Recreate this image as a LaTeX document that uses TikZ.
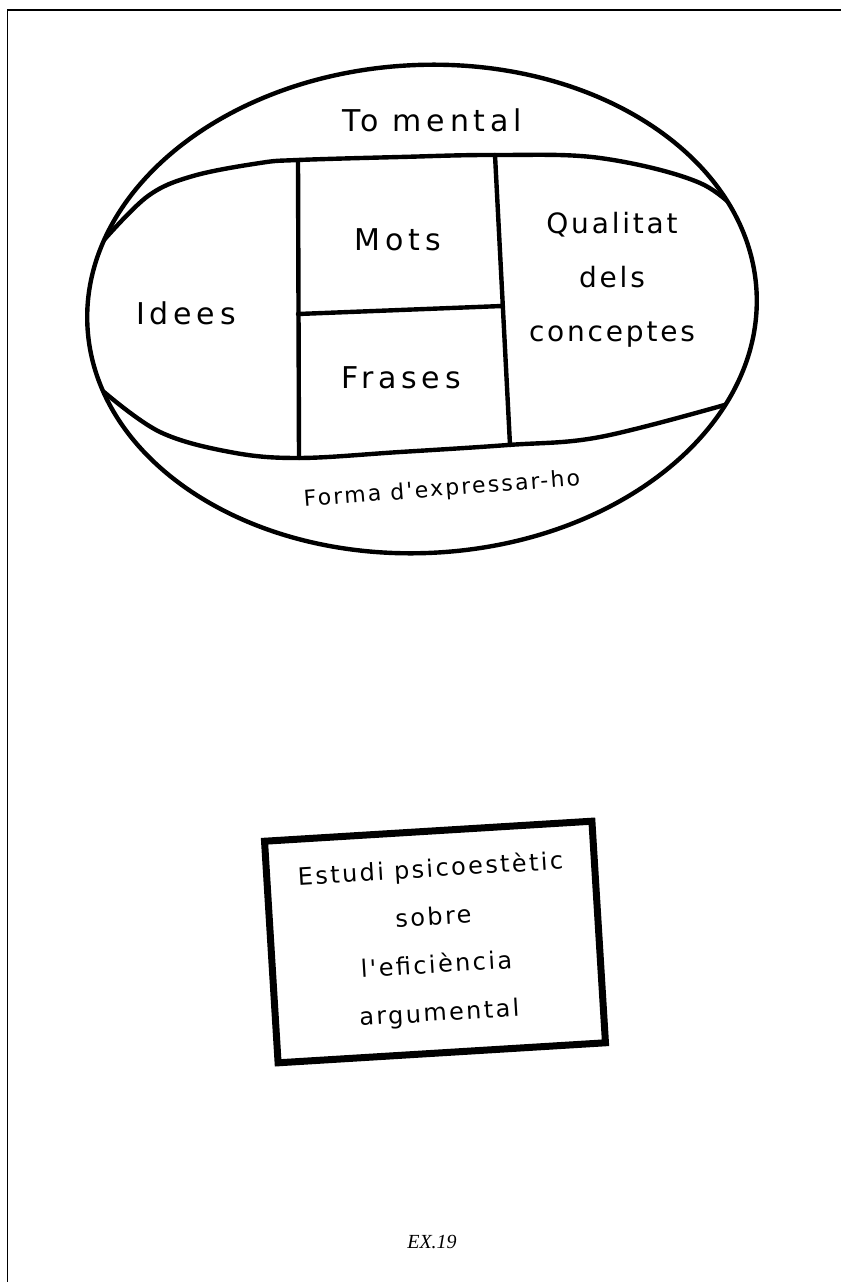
\documentclass[tikz,border=0pt]{standalone}
\usepackage{fontspec}
\newfontfamily\handfont[LetterSpace=10]{DejaVu Sans}
\newfontfamily\handwide[LetterSpace=16]{DejaVu Sans}
\newfontfamily\capfont{Liberation Serif}

\begin{document}
\begin{tikzpicture}[x=1pt, y=-1pt, font=\handfont,
pen/.style={line width=4.4pt, line join=round, line cap=round},
lbl/.style={inner sep=0pt, align=center, font=\handwide\fontsize{30}{54}\selectfont},
notebox/.style={draw, line width=7pt, minimum width=328pt, minimum height=222pt, align=center, font=\handfont\fontsize{24}{48}\selectfont}]
\useasboundingbox (0,0) rectangle (841,1282);
% page frame
\coordinate (fb) at (7.5,1282); \coordinate (fc) at (7.5,10); \coordinate (fr) at (841,10);
\draw[line width=1.5pt] (fb) -- (fc) -- (fr);
% outer egg
\coordinate (eggc) at (422,309);
\draw[pen, rotate around={3:(eggc)}] (eggc) ellipse[x radius=335pt, y radius=244pt];
% inner band, cut at the egg
\begin{scope}
\clip[rotate around={3:(eggc)}] (eggc) ellipse[x radius=335pt, y radius=244pt];
\draw[pen] plot[smooth, tension=0.6] coordinates {(104,240) (148,196) (193,176) (260,163) (298,160) (400,157) (495,155) (600,158) (700,183) (748,222)};
\draw[pen] plot[smooth, tension=0.6] coordinates {(104,392) (160,432) (230,452) (298,458) (400,452) (508,445) (600,437) (728,404)};
\end{scope}
\coordinate (v1t) at (298,160); \coordinate (v1b) at (299,458);
\coordinate (v2t) at (495,155); \coordinate (v2b) at (510,445);
\coordinate (mdl) at (298,314); \coordinate (mdr) at (502,306);
\draw[pen] (v1t) -- (v1b); \draw[pen] (v2t) -- (v2b); \draw[pen] (mdl) -- (mdr);
% labels
\node[lbl] (tomental) at (432,120) {To mental};
\node[lbl] (mots) at (398,240) {Mots};
\node[lbl] (frases) at (401,378) {Frases};
\node[lbl] (idees) at (186,313) {Idees};
\node[lbl, font=\handfont\fontsize{28}{54}\selectfont] (qualitat) at (612,280) {Qualitat\\dels\\conceptes};
\node[lbl, rotate=4.5, font=\handfont\fontsize{22}{26}\selectfont] (forma) at (442,490) {Forma d'expressar-ho};
% title box
\node[notebox, rotate=3.5] (estudi) at (435,942) {Estudi psicoestètic\\sobre\\l'eficiència\\argumental};
\node[font=\capfont\itshape\fontsize{20}{24}\selectfont] (exnum) at (432,1242) {EX.19};
\end{tikzpicture}
\end{document}
